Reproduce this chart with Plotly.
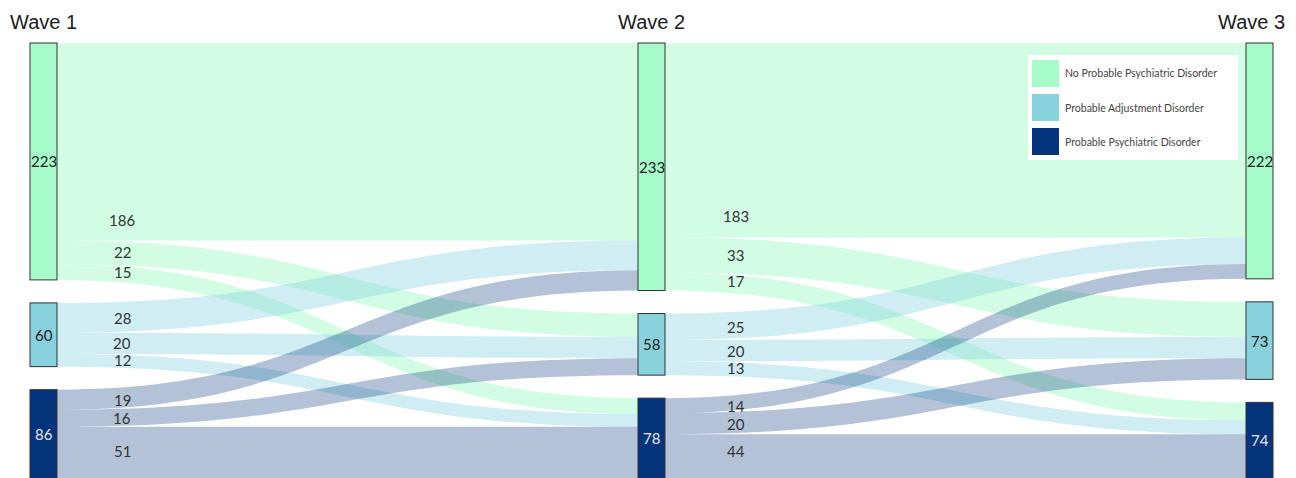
import plotly.graph_objects as go

# ---------------- data ----------------
waves = ["Wave 1", "Wave 2", "Wave 3"]
categories = ["No Probable Psychiatric Disorder",
              "Probable Adjustment Disorder",
              "Probable Psychiatric Disorder"]
# transitions Wave1 -> Wave2 (rows: source category, cols: target category)
flows_w1_w2 = [[186, 22, 15],
               [28, 20, 12],
               [19, 16, 51]]
# transitions Wave2 -> Wave3
flows_w2_w3 = [[183, 33, 17],
               [25, 20, 13],
               [14, 20, 44]]

node_colors = ["#a6fcc9", "#88d2de", "#04357c"]
link_colors = ["rgba(166,252,201,0.5)", "rgba(136,210,222,0.4)", "rgba(4,53,124,0.3)"]
node_text_colors = ["#222222", "#222222", "#e8e8e8"]

# ---------------- layout geometry (in window pixels) ----------------
FIG_W, FIG_H = 1296, 478
PAGE_OFF = 8                       # default page body margin
LEFT_PX, RIGHT_PX, TOP_PX, BOT_PX = 30, 1273, 43, 481
VIS_BOT = 478                      # window bottom
THICK = 27
PAD = 23

def to_paper(x, y):
    return (x - PAGE_OFF) / FIG_W, 1 - (y - PAGE_OFF) / FIG_H

DOM_X = [to_paper(LEFT_PX, 0)[0], to_paper(RIGHT_PX, 0)[0]]
DOM_Y = [to_paper(0, BOT_PX)[1], to_paper(0, TOP_PX)[1]]

W_px = RIGHT_PX - LEFT_PX
H_px = BOT_PX - TOP_PX

n_cat = len(categories)
transitions = [flows_w1_w2, flows_w2_w3]

# node totals per wave
totals = []
totals.append([sum(r) for r in flows_w1_w2])
totals.append([sum(flows_w1_w2[i][j] for i in range(n_cat)) for j in range(n_cat)])
totals.append([sum(flows_w2_w3[i][j] for i in range(n_cat)) for j in range(n_cat)])

grand = max(sum(t) for t in totals)
ky = (H_px - (n_cat - 1) * PAD) / grand

node_x, node_y, node_tops, node_centers_x = [], [], [], []
for c, tot in enumerate(totals):
    cx = THICK / 2 + c * (W_px - THICK) / (len(waves) - 1)
    cum = 0
    for k, v in enumerate(tot):
        ytop = cum * ky + k * PAD
        cy = ytop + v * ky / 2
        node_x.append(max(cx / W_px, 1e-4))
        node_y.append(max(cy / H_px, 1e-4))
        node_tops.append(ytop)
        node_centers_x.append(cx)
        cum += v

sources, targets, values, lcolors = [], [], [], []
for t, mat in enumerate(transitions):
    for i in range(n_cat):
        for j in range(n_cat):
            sources.append(t * n_cat + i)
            targets.append((t + 1) * n_cat + j)
            values.append(mat[i][j])
            lcolors.append(link_colors[i])

fig = go.Figure(go.Sankey(
    arrangement="fixed",
    domain=dict(x=DOM_X, y=DOM_Y),
    node=dict(
        label=[""] * (n_cat * len(waves)),
        x=node_x, y=node_y,
        pad=PAD, thickness=THICK,
        color=node_colors * len(waves),
        line=dict(color="#333333", width=1),
        customdata=[f"{w}: {c}" for w in waves for c in categories],
        hovertemplate="%{customdata}<br>%{value}<extra></extra>",
    ),
    link=dict(source=sources, target=targets, value=values, color=lcolors,
              hovertemplate="%{value}<extra></extra>"),
))

annotations = []

# node value labels
for c, tot in enumerate(totals):
    for k, v in enumerate(tot):
        idx = c * n_cat + k
        y_top = TOP_PX + node_tops[idx]
        y_bot = min(y_top + v * ky, VIS_BOT)
        x, y = to_paper(LEFT_PX + node_centers_x[idx], (y_top + y_bot) / 2)
        annotations.append(dict(x=x, y=y, xref="paper", yref="paper", text=str(v),
                                xanchor="center", yanchor="middle", showarrow=False,
                                font=dict(family="Lato", size=15, color=node_text_colors[k])))

# flow labels (on source side)
gap_px = (W_px - THICK) / (len(waves) - 1) - THICK
for t, mat in enumerate(transitions):
    for i in range(n_cat):
        src = t * n_cat + i
        ytop = TOP_PX + node_tops[src]
        for j in range(n_cat):
            v = mat[i][j]
            y0 = ytop
            y1 = min(ytop + v * ky, VIS_BOT)
            ytop += v * ky
            cy = max((y0 + y1) / 2, y1 - 21)
            cy = min(cy, VIS_BOT - 27)
            lx = LEFT_PX + node_centers_x[src] + THICK / 2 + (0.112 + 0.01 * t) * gap_px
            x, y = to_paper(lx, cy)
            annotations.append(dict(x=x, y=y, xref="paper", yref="paper", text=str(v),
                                    xanchor="center", yanchor="middle", showarrow=False,
                                    font=dict(family="Lato", size=15, color="#333333")))

# wave titles
for c, w in enumerate(waves):
    anchor = ["left", "center", "right"][c]
    xs = [8, LEFT_PX + node_centers_x[c * n_cat], 1287][c]
    x, y = to_paper(xs, 22)
    annotations.append(dict(x=x, y=y, xref="paper", yref="paper", text=w, showarrow=False,
                            xanchor=anchor, yanchor="middle",
                            font=dict(family="Liberation Sans", size=20, color="#1a1a1a")))

# legend
shapes = []
lx0, ly0, lx1, ly1 = 1028, 55, 1238, 160
px0, py1 = to_paper(lx0, ly0)
px1, py0 = to_paper(lx1, ly1)
shapes.append(dict(type="rect", xref="paper", yref="paper",
                   x0=px0, x1=px1, y0=py0, y1=py1,
                   fillcolor="white", line=dict(width=0)))
for k, cat in enumerate(categories):
    sy = 60 + k * 34
    sx0, sy1 = to_paper(1032, sy)
    sx1, sy0 = to_paper(1059, sy + 27)
    shapes.append(dict(type="rect", xref="paper", yref="paper",
                       x0=sx0, x1=sx1, y0=sy0, y1=sy1,
                       fillcolor=node_colors[k], line=dict(width=0)))
    x, y = to_paper(1063, sy + 13.5)
    annotations.append(dict(x=x, y=y, xref="paper", yref="paper", text=cat, showarrow=False,
                            xanchor="left", yanchor="middle",
                            font=dict(family="Lato", size=10.5, color="#444444")))

fig.update_layout(width=FIG_W, height=FIG_H, margin=dict(l=0, r=0, t=0, b=0),
                  paper_bgcolor="white", plot_bgcolor="white",
                  annotations=annotations, shapes=shapes, showlegend=False)

fig.write_html("out.html")
